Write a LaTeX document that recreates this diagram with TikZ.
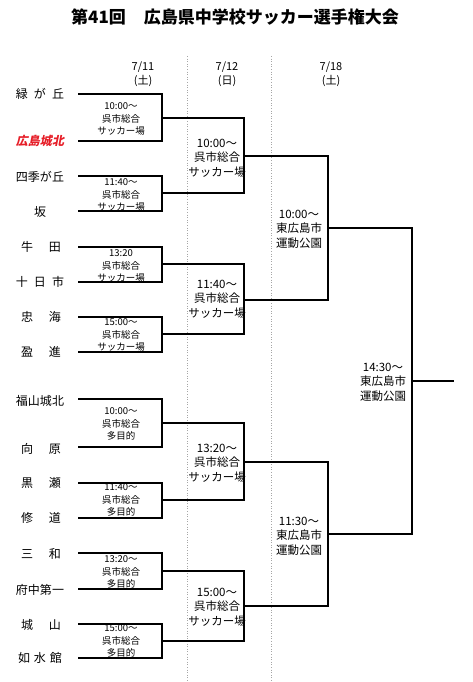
\documentclass[tikz,border=0pt]{standalone}
\usepackage{fontspec}
\setmainfont{Noto Sans CJK JP}
\newfontfamily\jpslant[FakeSlant=0.2]{Noto Sans CJK JP}
\definecolor{teamred}{RGB}{230,30,40}
\begin{document}
\begin{tikzpicture}[x=1pt,y=-1pt,
  team/.style={font=\fontsize{12}{12}\selectfont, inner sep=0pt},
  rone/.style={font=\fontsize{9.5}{12.3}\selectfont, align=center, inner sep=0pt},
  rtwo/.style={font=\fontsize{11.5}{14.6}\selectfont, align=center, inner sep=0pt},
  datelbl/.style={font=\fontsize{11}{14}\selectfont, align=center, inner sep=0pt},
  brk/.style={line width=1.6pt, line join=miter},
  sep/.style={gray!70, dotted, line width=0.6pt}]
\useasboundingbox (0,0) rectangle (472,682);
% title
\node[font=\fontsize{17}{17}\selectfont\bfseries, inner sep=0pt] (title) at (235,17) {第41回\hspace{18pt}広島県中学校サッカー選手権大会};
% dates
\node[datelbl] (d1) at (143,74) {7/11\\(土)};
\node[datelbl] (d2) at (227,74) {7/12\\(日)};
\node[datelbl] (d3) at (331,74) {7/18\\(土)};
% separators
\coordinate (s1a) at (187,56); \coordinate (s1b) at (187,682);
\coordinate (s2a) at (271,56); \coordinate (s2b) at (271,682);
\draw[sep] (s1a) -- (s1b);
\draw[sep] (s2a) -- (s2b);
% team names
\node[team] (n1) at (40,94) {緑\hspace{6pt}が\hspace{6pt}丘};
\node[team, text=teamred, font=\fontsize{12}{12}\selectfont\jpslant\bfseries] (n2) at (40,141) {広島城北};
\node[team] (n3) at (40,177) {四季が丘};
\node[team] (n4) at (40,212) {坂};
\node[team] (n5) at (41,247) {牛\hspace{16pt}田};
\node[team] (n6) at (40,282) {十\hspace{6pt}日\hspace{6pt}市};
\node[team] (n7) at (41,317) {忠\hspace{16pt}海};
\node[team] (n8) at (41,352) {盈\hspace{16pt}進};
\node[team] (n9) at (40,401) {福山城北};
\node[team] (n10) at (41,449) {向\hspace{16pt}原};
\node[team] (n11) at (41,483) {黒\hspace{16pt}瀬};
\node[team] (n12) at (41,518) {修\hspace{16pt}道};
\node[team] (n13) at (41,554) {三\hspace{16pt}和};
\node[team] (n14) at (40,590) {府中第一};
\node[team] (n15) at (41,625) {城\hspace{16pt}山};
\node[team] (n16) at (40,658) {如\hspace{4pt}水\hspace{4pt}館};
% bracket coordinates: round 1
\foreach \i/\y in {1/94,2/141,3/176,4/211,5/247,6/282,7/317,8/352,9/399,10/447,11/483,12/518,13/553,14/589,15/624,16/658}{
  \coordinate (a\i) at (78,\y);
  \coordinate (b\i) at (162,\y);
}
% round 1 match joints
\foreach \m/\y in {1/118,2/193,3/264,4/334,5/423,6/500,7/571,8/641}{
  \coordinate (m\m) at (162,\y);
  \coordinate (p\m) at (244,\y);
}
% round 2 joints
\foreach \m/\y in {1/156,2/300,3/462,4/606}{
  \coordinate (q\m) at (244,\y);
  \coordinate (r\m) at (328,\y);
}
% round 3 joints
\coordinate (u1) at (328,228); \coordinate (v1) at (412,228);
\coordinate (u2) at (328,534); \coordinate (v2) at (412,534);
\coordinate (w) at (412,381); \coordinate (wend) at (454,381);
% draw round 1
\foreach \k/\i/\j in {1/1/2,2/3/4,3/5/6,4/7/8,5/9/10,6/11/12,7/13/14,8/15/16}{
  \draw[brk] (a\i) -- (b\i) -- (b\j) -- (a\j);
}
% round 2
\draw[brk] (m1) -- (p1) -- (p2) -- (m2);
\draw[brk] (m3) -- (p3) -- (p4) -- (m4);
\draw[brk] (m5) -- (p5) -- (p6) -- (m6);
\draw[brk] (m7) -- (p7) -- (p8) -- (m8);
% round 3
\draw[brk] (q1) -- (r1) -- (r2) -- (q2);
\draw[brk] (q3) -- (r3) -- (r4) -- (q4);
% final
\draw[brk] (u1) -- (v1) -- (v2) -- (u2);
\draw[brk] (w) -- (wend);
% round 1 labels
\node[rone] (l1) at (121,119) {10:00〜\\呉市総合\\サッカー場};
\node[rone] (l2) at (121,195) {11:40〜\\呉市総合\\サッカー場};
\node[rone] (l3) at (121,266) {13:20\\呉市総合\\サッカー場};
\node[rone] (l4) at (121,335) {15:00〜\\呉市総合\\サッカー場};
\node[rone] (l5) at (121,424) {10:00〜\\呉市総合\\多目的};
\node[rone] (l6) at (121,500) {11:40〜\\呉市総合\\多目的};
\node[rone] (l7) at (121,572) {13:20〜\\呉市総合\\多目的};
\node[rone] (l8) at (121,641) {15:00〜\\呉市総合\\多目的};
% round 2 labels
\node[rtwo] (k1) at (217,158) {10:00〜\\呉市総合\\サッカー場};
\node[rtwo] (k2) at (217,299) {11:40〜\\呉市総合\\サッカー場};
\node[rtwo] (k3) at (217,463) {13:20〜\\呉市総合\\サッカー場};
\node[rtwo] (k4) at (217,607) {15:00〜\\呉市総合\\サッカー場};
% round 3 labels
\node[rtwo] (j1) at (299,229) {10:00〜\\東広島市\\運動公園};
\node[rtwo] (j2) at (299,536) {11:30〜\\東広島市\\運動公園};
% final label
\node[rtwo] (f) at (383,382) {14:30〜\\東広島市\\運動公園};
\end{tikzpicture}
\end{document}
